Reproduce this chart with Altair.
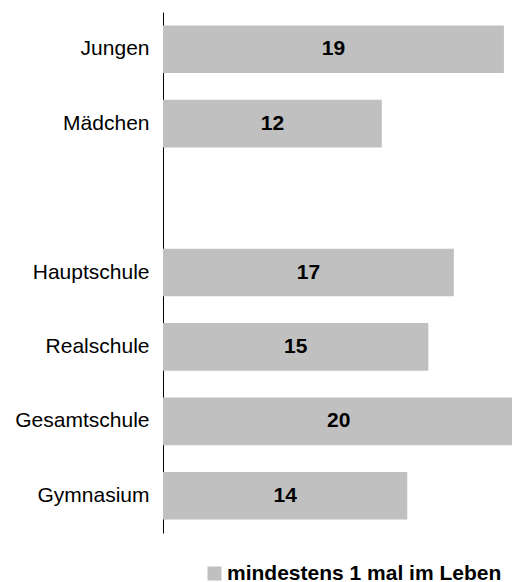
import altair as alt
import pandas as pd

# categories (the blank one is an empty slot between the two groups)
categories = ["Jungen", "Mädchen", " ", "Hauptschule", "Realschule", "Gesamtschule", "Gymnasium"]
bar_categories = ["Jungen", "Mädchen", "Hauptschule", "Realschule", "Gesamtschule", "Gymnasium"]
values = [19.4, 12.45, 16.55, 15.1, 20.0, 13.9]
series_name = "mindestens 1 mal im Leben"

df = pd.DataFrame({"kategorie": bar_categories, "wert": values, "serie": series_name})

font = "Liberation Sans"

y_enc = alt.Y(
    "kategorie:N",
    scale=alt.Scale(domain=categories, paddingInner=0.36, paddingOuter=0.18),
    axis=alt.Axis(
        title=None, ticks=False, grid=False, domain=True, domainColor="#000000",
        domainWidth=1, labelFont=font, labelFontSize=21, labelColor="#000000",
        labelPadding=14, labelLimit=300,
    ),
)

x_scale = alt.Scale(domain=[0, 19.86], nice=False, zero=True)

bars = alt.Chart(df).mark_bar(clip=True).encode(
    y=y_enc,
    x=alt.X("wert:Q", scale=x_scale, axis=None),
    color=alt.Color(
        "serie:N",
        scale=alt.Scale(range=["#c0c0c0"]),
        legend=alt.Legend(
            title=None, orient="none", legendX=41, legendY=551,
            symbolType="square", symbolSize=196, symbolStrokeWidth=0,
            labelFont=font, labelFontSize=21, labelFontWeight="bold",
            labelColor="#000000", labelLimit=400, labelOffset=2,
        ),
    ),
)

labels = alt.Chart(df).transform_calculate(
    mitte="datum.wert / 2"
).mark_text(
    font=font, fontSize=21, fontWeight="bold", color="#000000",
    align="center", baseline="middle",
).encode(
    y=alt.Y("kategorie:N", scale=alt.Scale(domain=categories, paddingInner=0.36, paddingOuter=0.18)),
    x=alt.X("mitte:Q", scale=x_scale),
    text=alt.Text("wert:Q", format=".0f"),
)

chart = alt.layer(bars, labels).properties(
    width=349,
    height=521,
    autosize=alt.AutoSizeParams(type="none"),
    padding={"left": 163, "top": 12, "right": 0, "bottom": 49},
).configure_view(stroke=None)

chart.save("out.html", embed_options={"renderer": "svg", "actions": False})
